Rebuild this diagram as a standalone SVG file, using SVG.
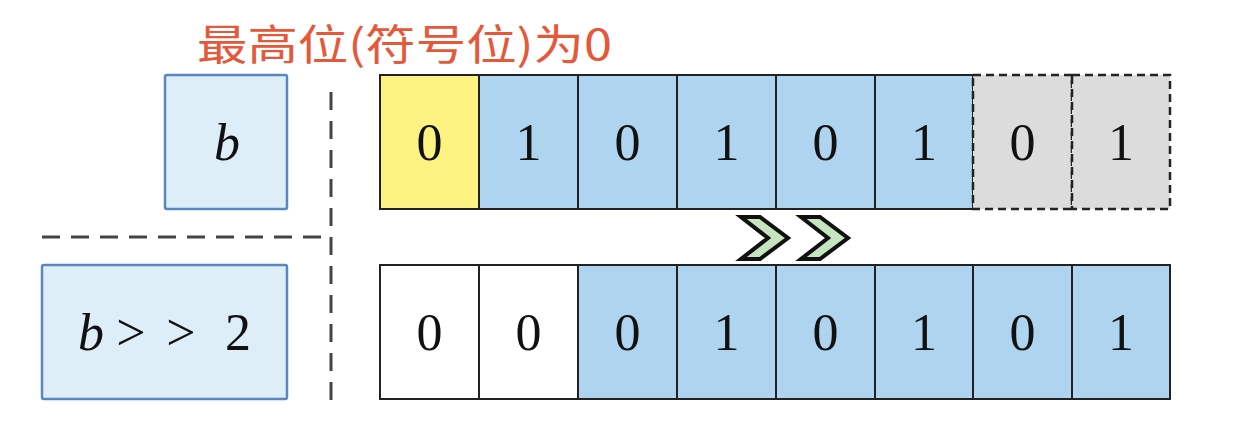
<svg xmlns="http://www.w3.org/2000/svg" width="1244" height="436" viewBox="0 0 1244 436">
<style>
.cell{stroke:#222;stroke-width:2}
.blue{fill:#aed4ef}
.yel{fill:#fdf382}
.wht{fill:#fff}
.gry{fill:#dcdcdc;stroke:#222;stroke-width:2.5;stroke-dasharray:8 5}
.lbl{fill:#ddeef8;stroke:#5a87bf;stroke-width:2.5}
.d{font-family:"Liberation Serif",serif;font-size:52px;fill:#111;text-anchor:middle}
.m{font-family:"Liberation Serif",serif;font-style:italic;font-size:52px;fill:#111;text-anchor:middle}
.sep{stroke:#444;stroke-width:3;stroke-dasharray:18 11;fill:none}
.chev{fill:#c6e4bf;stroke:#111;stroke-width:4;stroke-linejoin:miter}
</style>
<rect width="1244" height="436" fill="#fff"/>
<text x="197" y="60" font-family="Noto Sans CJK SC, Liberation Sans, sans-serif" font-size="42" fill="#e5583a" textLength="415" lengthAdjust="spacingAndGlyphs">最高位(符号位)为0</text>
<g id="connectors">
<path class="sep" d="M331 92 V400"/>
<path class="sep" d="M42 237 H331"/>
</g>
<g id="label-b">
<rect class="lbl" x="165" y="75" width="122" height="134" rx="2"/>
<text class="m" x="227" y="160">b</text>
</g>
<g id="label-b2">
<rect class="lbl" x="42" y="265" width="245" height="134" rx="2"/>
<text class="m" y="350"><tspan x="91">b</tspan><tspan font-style="normal" x="131">&gt;</tspan><tspan font-style="normal" x="181">&gt;</tspan><tspan font-style="normal" x="238">2</tspan></text>
</g>
<g id="row-b">
<rect class="cell yel" x="380" y="75" width="99" height="134"/>
<rect class="cell blue" x="479" y="75" width="99" height="134"/>
<rect class="cell blue" x="578" y="75" width="99" height="134"/>
<rect class="cell blue" x="677" y="75" width="99" height="134"/>
<rect class="cell blue" x="776" y="75" width="99" height="134"/>
<rect class="cell blue" x="875" y="75" width="98" height="134"/>
<rect class="gry" x="973" y="75" width="99" height="134"/>
<rect class="gry" x="1072" y="75" width="98" height="134"/>
<text class="d" x="429.5" y="160">0</text>
<text class="d" x="528.5" y="160">1</text>
<text class="d" x="627.5" y="160">0</text>
<text class="d" x="726.5" y="160">1</text>
<text class="d" x="825.5" y="160">0</text>
<text class="d" x="924" y="160">1</text>
<text class="d" x="1022.5" y="160">0</text>
<text class="d" x="1121" y="160">1</text>
</g>
<g id="shift">
<polygon class="chev" points="741,217 760,217 788,238 760,259 741,259 768,238"/>
<polygon class="chev" points="801,217 820,217 848,238 820,259 801,259 828,238"/>
</g>
<g id="row-b2">
<rect class="cell wht" x="380" y="265" width="99" height="134"/>
<rect class="cell wht" x="479" y="265" width="99" height="134"/>
<rect class="cell blue" x="578" y="265" width="99" height="134"/>
<rect class="cell blue" x="677" y="265" width="99" height="134"/>
<rect class="cell blue" x="776" y="265" width="99" height="134"/>
<rect class="cell blue" x="875" y="265" width="98" height="134"/>
<rect class="cell blue" x="973" y="265" width="99" height="134"/>
<rect class="cell blue" x="1072" y="265" width="98" height="134"/>
<text class="d" x="429.5" y="350">0</text>
<text class="d" x="528.5" y="350">0</text>
<text class="d" x="627.5" y="350">0</text>
<text class="d" x="726.5" y="350">1</text>
<text class="d" x="825.5" y="350">0</text>
<text class="d" x="924" y="350">1</text>
<text class="d" x="1022.5" y="350">0</text>
<text class="d" x="1121" y="350">1</text>
</g>
</svg>
